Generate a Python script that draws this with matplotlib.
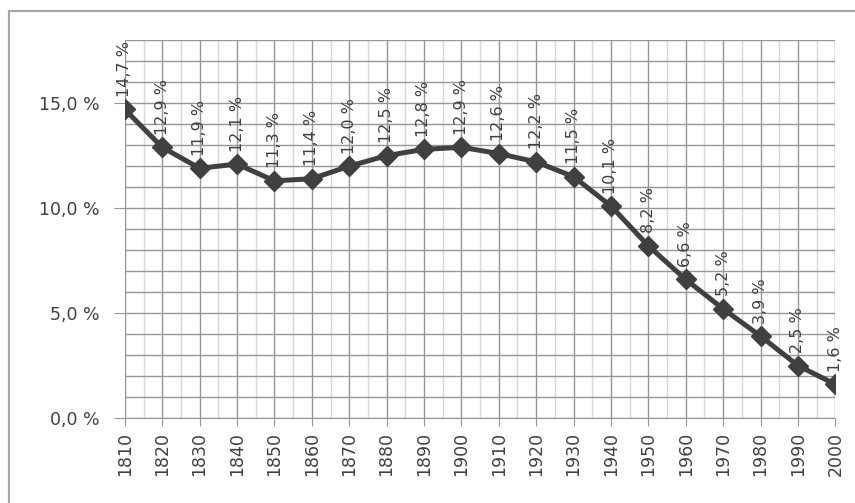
import numpy as np
import matplotlib

matplotlib.use("Agg")
import matplotlib.pyplot as plt  # noqa: E402
from matplotlib.patches import Rectangle  # noqa: E402
from matplotlib.ticker import FixedLocator, MultipleLocator, FuncFormatter  # noqa: E402

years = [1810, 1820, 1830, 1840, 1850, 1860, 1870, 1880, 1890, 1900,
         1910, 1920, 1930, 1940, 1950, 1960, 1970, 1980, 1990, 2000]
share = [14.7, 12.9, 11.9, 12.1, 11.3, 11.4, 12.0, 12.5, 12.8, 12.9,
         12.6, 12.2, 11.5, 10.1, 8.2, 6.6, 5.2, 3.9, 2.5, 1.6]

INK = "#404040"
GRID = "#969696"
LIGHT = "#d9d9d9"


def pct(v):
    return f"{v:.1f}".replace(".", ",") + " %"


plt.rcParams.update({"font.family": "DejaVu Sans", "text.color": INK,
                     "xtick.color": INK, "ytick.color": INK})
fig = plt.figure(figsize=(8.55, 5.03), dpi=100)
ax = fig.add_axes([0.146, 0.169, 0.831, 0.751])

x = np.arange(len(years))
ax.plot(x, share, color=INK, lw=3.6, marker="D", markersize=10, zorder=4)
for xi, v in zip(x, share):
    ax.annotate(pct(v), (xi, v), xytext=(0, 9), textcoords="offset points",
                rotation=90, ha="center", va="bottom", fontsize=11.5, color=INK)

ax.set_xlim(0, len(years) - 1)
ax.set_ylim(0, 18)
ax.set_xticks(x)
ax.set_xticklabels([str(y) for y in years], rotation=90, fontsize=12.5)
ax.xaxis.set_minor_locator(FixedLocator(x[:-1] + 0.5))
ax.yaxis.set_major_locator(FixedLocator([0, 5, 10, 15]))
ax.yaxis.set_minor_locator(MultipleLocator(1))
ax.yaxis.set_major_formatter(FuncFormatter(lambda v, _: pct(v)))
ax.tick_params(axis="y", labelsize=12.5, length=8, color=GRID, pad=10)
ax.tick_params(axis="x", length=6, color=GRID, pad=4)
ax.tick_params(which="minor", length=0)

ax.grid(True, which="major", color=GRID, lw=1.0)
ax.grid(True, which="minor", axis="y", color=GRID, lw=1.0)
ax.grid(True, which="minor", axis="x", color=LIGHT, lw=1.0)
ax.set_axisbelow(True)
for s in ("top", "right", "left"):
    ax.spines[s].set_visible(False)
ax.spines["bottom"].set_color(GRID)

# outer chart frame, cut by the image edges on the right and bottom
fig.patches.append(Rectangle((9 / 855, -0.05), 1.1, 1 - 11 / 503 + 0.05,
                             transform=fig.transFigure, fill=False,
                             edgecolor="#a6a6a6", lw=1.6))

fig.savefig("out.png", dpi=100)
